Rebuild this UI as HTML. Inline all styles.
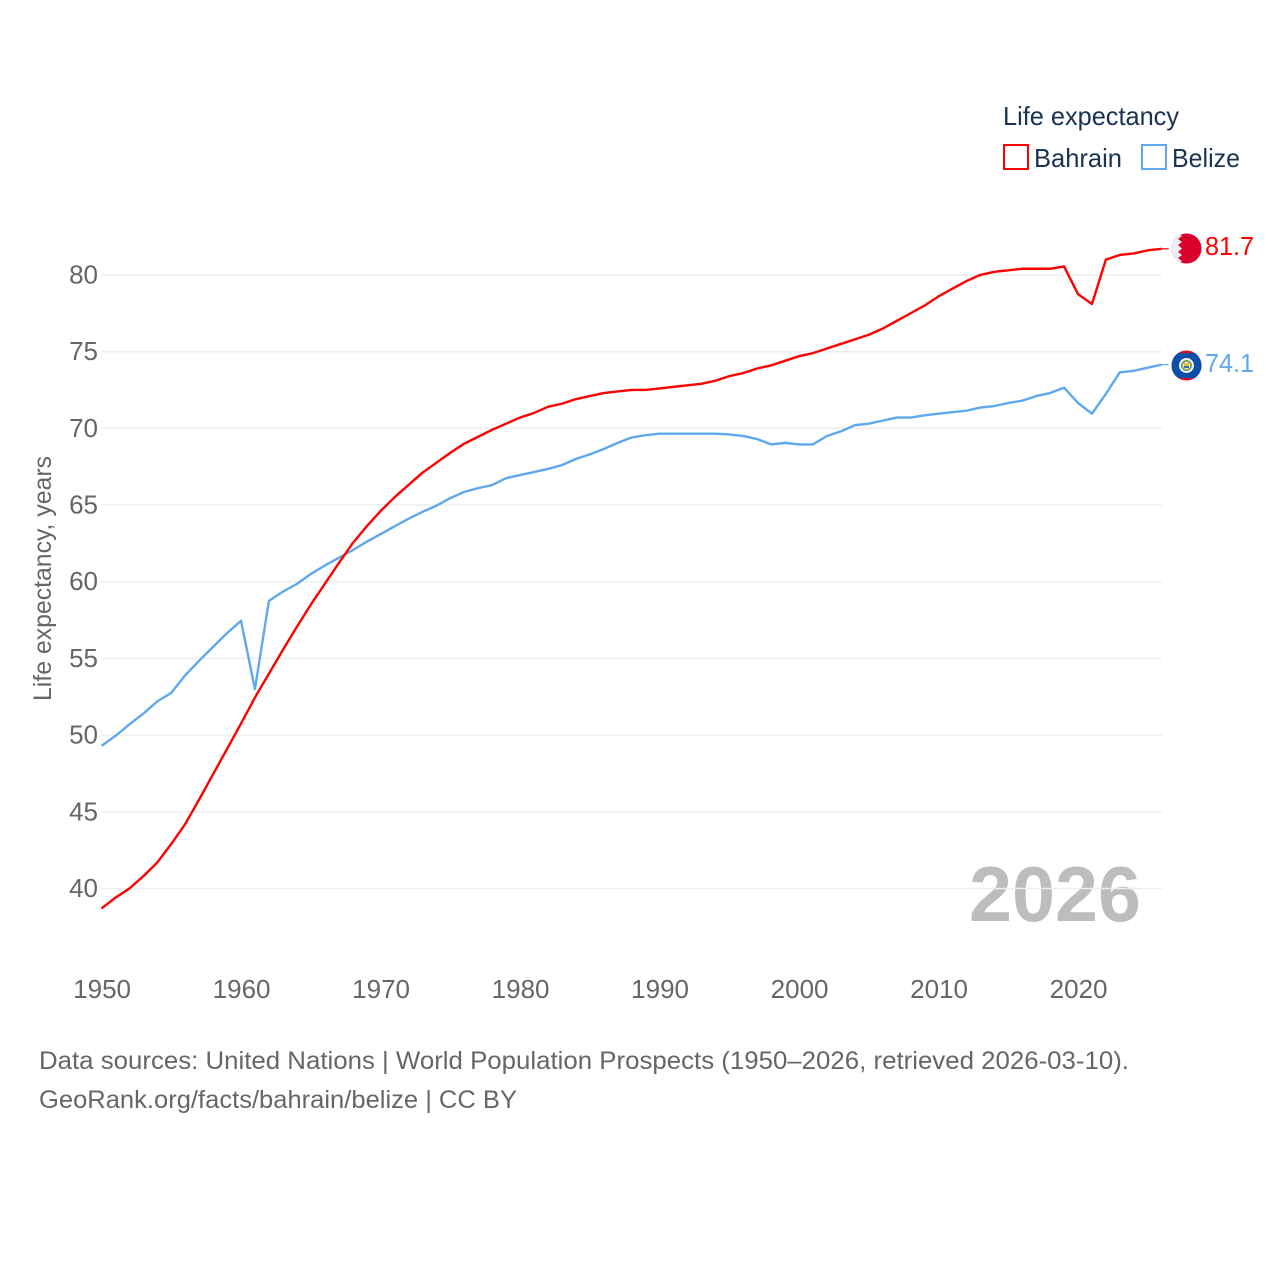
<!DOCTYPE html>
<html lang="en">
<head>
<meta charset="utf-8">
<title>Life expectancy: Bahrain and Belize</title>
<style>
html,body{margin:0;padding:0;background:#fff;}
svg{display:block;font-family:"Liberation Sans",sans-serif;}
</style>
</head>
<body>
<svg id="chart" xmlns="http://www.w3.org/2000/svg" width="1280" height="1280" viewBox="0 0 1280 1280">
  <defs>
    <clipPath id="flag-clip-a"><circle cx="1186.5" cy="248.5" r="15"/></clipPath>
    <clipPath id="flag-clip-b"><circle cx="1186.5" cy="365.5" r="15"/></clipPath>
  </defs>
  <rect width="1280" height="1280" fill="#fff"/>
  <text x="969" y="921" font-size="78" font-weight="bold" fill="#bdbdbd" textLength="172" lengthAdjust="spacingAndGlyphs">2026</text>
  <g id="grid"></g>
  <g id="yticks"></g>
  <g id="xticks"></g>
  <text transform="translate(51,701) rotate(-90)" font-size="25" fill="#666" textLength="245" lengthAdjust="spacingAndGlyphs">Life expectancy, years</text>
  <g id="series"></g>

  <g clip-path="url(#flag-clip-a)">
    <rect x="1171" y="233" width="31" height="31" fill="#d9002b"/>
    <polygon points="1171,233 1178,233 1182,236 1178,239 1182,242 1178,245 1182,248.5 1178,252 1182,255 1178,258 1182,261 1178,264 1171,264" fill="#eeeeee"/>
  </g>
  <g clip-path="url(#flag-clip-b)">
    <rect x="1171" y="350" width="31" height="31" fill="#ce1126"/>
    <rect x="1171" y="353" width="31" height="25" fill="#0a4fa8"/>
    <circle cx="1186.5" cy="365.5" r="7.5" fill="#f4f4f4"/>
    <circle cx="1186.5" cy="365.5" r="5.5" fill="#7fa35a"/>
    <circle cx="1186.5" cy="365.5" r="3.6" fill="#f4f4f4"/>
    <rect x="1184" y="363" width="5" height="3" fill="#e8c33c"/>
    <rect x="1184" y="366" width="5" height="2" fill="#3a6fb0"/>
  </g>

  <g id="endlabels"></g>

  <g>
    <text x="1003" y="125" font-size="26" fill="#1a3352" textLength="176" lengthAdjust="spacingAndGlyphs">Life expectancy</text>
    <g>
      <rect x="1004" y="145" width="24" height="24" fill="#fff" stroke="#ff0000" stroke-width="2"/>
      <text x="1034" y="167" font-size="26" fill="#1a3352" textLength="88" lengthAdjust="spacingAndGlyphs">Bahrain</text>
    </g>
    <g>
      <rect x="1142" y="145" width="24" height="24" fill="#fff" stroke="#5fa8ee" stroke-width="2"/>
      <text x="1172" y="167" font-size="26" fill="#1a3352" textLength="68" lengthAdjust="spacingAndGlyphs">Belize</text>
    </g>
  </g>

  <text x="39" y="1069" font-size="25" fill="#666" textLength="1090" lengthAdjust="spacingAndGlyphs">Data sources: United Nations | World Population Prospects (1950–2026, retrieved 2026-03-10).</text>
  <text x="39" y="1108" font-size="25" fill="#666" textLength="478" lengthAdjust="spacingAndGlyphs">GeoRank.org/facts/bahrain/belize | CC BY</text>
</svg>
<script>
var startYear = 1950;
var yTickValues = [40, 45, 50, 55, 60, 65, 70, 75, 80];
var xTickValues = [1950, 1960, 1970, 1980, 1990, 2000, 2010, 2020];
var bahrainValues = [38.7,39.4,40.0,40.8,41.7,42.9,44.2,45.8,47.45,49.1,50.75,52.45,54.0,55.55,57.05,58.5,59.85,61.2,62.5,63.6,64.6,65.5,66.3,67.1,67.75,68.4,69.0,69.45,69.9,70.3,70.7,71.0,71.4,71.6,71.9,72.1,72.3,72.4,72.5,72.5,72.6,72.7,72.8,72.9,73.1,73.4,73.6,73.9,74.1,74.4,74.7,74.9,75.2,75.5,75.8,76.1,76.5,77.0,77.5,78.0,78.6,79.1,79.6,80.0,80.2,80.3,80.4,80.4,80.4,80.55,78.75,78.1,81.0,81.3,81.4,81.6,81.7];
var belizeValues = [49.3,49.95,50.7,51.4,52.2,52.75,53.9,54.85,55.75,56.65,57.45,53.0,58.75,59.35,59.85,60.5,61.05,61.55,62.05,62.6,63.1,63.6,64.1,64.55,64.95,65.45,65.85,66.1,66.3,66.75,66.95,67.15,67.35,67.6,68.0,68.3,68.65,69.05,69.4,69.55,69.65,69.65,69.65,69.65,69.65,69.6,69.5,69.3,68.95,69.05,68.95,68.95,69.5,69.8,70.2,70.3,70.5,70.7,70.7,70.85,70.95,71.05,71.15,71.35,71.45,71.65,71.8,72.1,72.3,72.65,71.65,70.95,72.25,73.65,73.75,73.95,74.15];
var bahrainEndLabel = "81.7";
var belizeEndLabel = "74.1";

var NS = "http://www.w3.org/2000/svg";
function xScale(year) { return 101.5 + (year - 1950) * 13.95; }
function yScale(value) { return 888.5 - (value - 40) * 15.34; }
function make(tag, attrs, parent, text) {
  var el = document.createElementNS(NS, tag);
  for (var k in attrs) { el.setAttribute(k, attrs[k]); }
  if (text !== undefined) { el.textContent = text; }
  parent.appendChild(el);
  return el;
}

var grid = document.getElementById("grid");
var yticks = document.getElementById("yticks");
yTickValues.forEach(function (v) {
  var line = make("line", {x1: 101, x2: 1162, y1: yScale(v), y2: yScale(v), stroke: "#eeeeee", "stroke-width": 1.5}, grid);
  
  
  var label = make("text", {x: 98, y: yScale(v) + 8.5, "text-anchor": "end", "font-size": 26, fill: "#666"}, yticks, v);
  
  
});

var xticks = document.getElementById("xticks");
xTickValues.forEach(function (v) {
  var label = make("text", {x: xScale(v) + 0.6, y: 998, "text-anchor": "middle", "font-size": 26, fill: "#666"}, xticks, v);
  
  
});

function linePath(values) {
  var d = "";
  values.forEach(function (v, i) {
    d += (i ? "L" : "M") + xScale(startYear + i).toFixed(2) + " " + yScale(v).toFixed(2);
  });
  return d;
}

var series = document.getElementById("series");
var belizeLine = make("path", {d: linePath(belizeValues), fill: "none", stroke: "#5fa8ee", "stroke-width": 2.4, "stroke-linejoin": "round"}, series);


var bahrainLine = make("path", {d: linePath(bahrainValues), fill: "none", stroke: "#ff0000", "stroke-width": 2.4, "stroke-linejoin": "round"}, series);



var lastYearX = xScale(startYear + bahrainValues.length - 1);
var bahrainLastY = yScale(bahrainValues[bahrainValues.length - 1]);
var belizeLastY = yScale(belizeValues[belizeValues.length - 1]);
var stubA = make("line", {x1: lastYearX, x2: lastYearX + 7, y1: bahrainLastY, y2: bahrainLastY, stroke: "#ff0000", "stroke-width": 1.2}, series);


var stubB = make("line", {x1: lastYearX, x2: lastYearX + 7, y1: belizeLastY, y2: belizeLastY, stroke: "#5fa8ee", "stroke-width": 1.2}, series);



var endlabels = document.getElementById("endlabels");
var endA = make("text", {x: 1205, y: 255, "font-size": 26, fill: "#ff0000", textLength: 49, lengthAdjust: "spacingAndGlyphs"}, endlabels, bahrainEndLabel);


var endB = make("text", {x: 1205, y: 372, "font-size": 26, fill: "#5fa8ee", textLength: 49, lengthAdjust: "spacingAndGlyphs"}, endlabels, belizeEndLabel);


</script>
</body>
</html>
